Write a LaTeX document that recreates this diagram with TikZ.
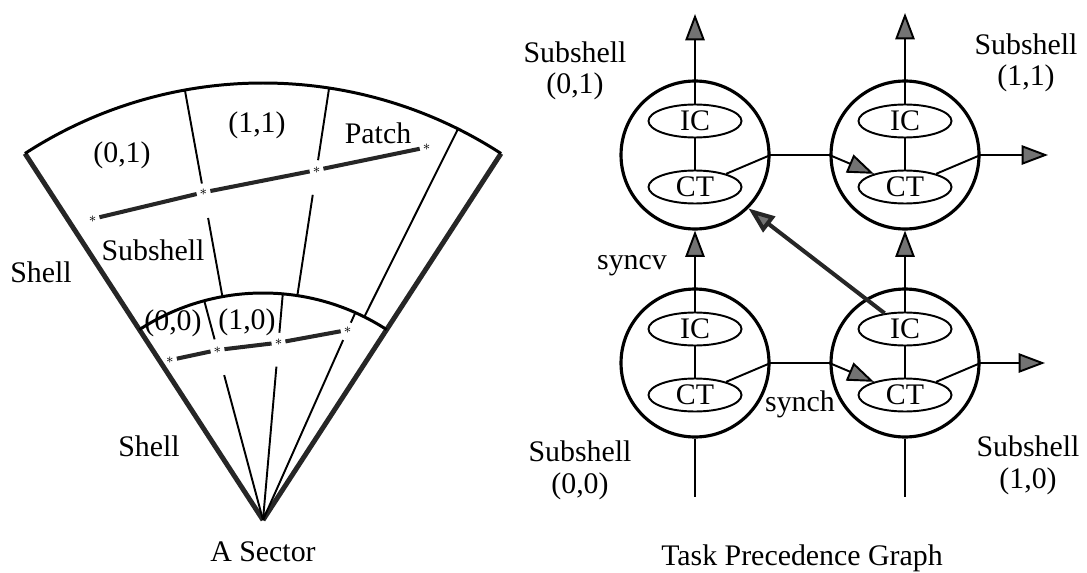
\documentclass[tikz,border=0pt]{standalone}
\usepackage{fontspec}
\setmainfont{Liberation Serif}
\usetikzlibrary{arrows.meta,shapes.geometric}

\begin{document}
\begin{tikzpicture}[x=0.02cm,y=0.02cm,
      >={Triangle[length=15pt,width=11pt,fill=black!55]},
      font=\fontsize{17}{18}\selectfont,
      rim/.style={line width=1.7pt},
      side/.style={line width=2.8pt,black!85},
      sect/.style={line width=1.1pt},
      patch/.style={line width=2.3pt,black!85,shorten <=4pt,shorten >=4pt},
      spot/.style={inner sep=0pt,font=\footnotesize},
      task/.style={circle,draw,line width=1.8pt,minimum size=2.96cm,inner sep=0pt},
      job/.style={ellipse,draw,line width=1.1pt,minimum width=1.86cm,minimum height=0.66cm,inner sep=0pt},
      link/.style={line width=1.1pt}]
      \useasboundingbox (0,0) rectangle (1087,572);

      % the sector, drawn around its apex
      \begin{scope}[shift={(263,52)}]
      \coordinate (apex) at (0,0);
      \draw[side] (apex) -- (123:437);
      \draw[side] (apex) -- (57:437);
      \draw[rim] (123:437) arc (123:57:437);
      \draw[rim] (123:227) arc (123:57:227);

      % subshell boundaries, broken where the patch lines cross
      \foreach \a/\o/\p/\q/\i in {100.3/437/342/307/227, 81.3/437/364/329/227,
                                  105/227/187/150/0, 85/227/188/154/0, 66/227/216/197/0}
        \draw[sect] (\a:\o) -- (\a:\p) (\a:\q) -- (\a:\i);
      \draw[sect] (63.5:437) -- (63.5:227);

      % patch lines
      \coordinate (p1) at (119.5:346);
      \coordinate (p2) at (100.3:333);
      \coordinate (p3) at (81.3:354);
      \coordinate (p4) at (66.3:407);
      \coordinate (q1) at (120.2:185);
      \coordinate (q2) at (105:176);
      \coordinate (q3) at (85:178);
      \coordinate (q4) at (66:208);
      \foreach \u/\v in {p1/p2,p2/p3,p3/p4,q1/q2,q2/q3,q3/q4}
        \draw[patch] (\u) -- (\v);
      \foreach \u in {p1,p2,p3,p4,q1,q2,q3,q4}
        \node[spot] at (\u) {$*$};
      \end{scope}

      \node (c01) at (122,417) {(0,1)};
      \node (c11) at (257,447) {(1,1)};
      \node (patch) at (378,439) {Patch};
      \node (sub) at (153,322) {Subshell};
      \node (shellA) at (41,300) {Shell};
      \node (c00) at (173,249) {(0,0)};
      \node (c10) at (247,250) {(1,0)};
      \node (shellB) at (149,126) {Shell};
      \node (sector) at (263,20) {A Sector};

      % task precedence graph
      \node[task] (s01) at (695,417) {};
      \node[task] (s11) at (905,417) {};
      \node[task] (s00) at (695,209) {};
      \node[task] (s10) at (905,209) {};
      \foreach \n/\x/\y in {01/695/417, 11/905/417, 00/695/209, 10/905/209} {
        \node[job] (ic\n) at (\x,\y+34) {IC};
        \node[job] (ct\n) at (\x,\y-32) {CT};
        \draw[link] (ic\n) -- (ct\n);
      }

      \coordinate (up01) at (695,558);
      \coordinate (up11) at (905,559);
      \coordinate (out11) at (1048,417);
      \coordinate (out10) at (1045,209);
      \coordinate (in00) at (695,75);
      \coordinate (in10) at (905,75);

      \draw[link,->] (ic01) -- (up01);
      \draw[link,->] (ic11) -- (up11);
      \draw[link,->] (ct01) -- (s01.east) -- (s11.west) -- (ct11);
      \draw[link,->] (ct00) -- (s00.east) -- (s10.west) -- (ct10);
      \draw[link,->] (ct11) -- (s11.east) -- (out11);
      \draw[link,->] (ct10) -- (s10.east) -- (out10);
      \draw[link,->] (ic00) -- (s01.south);
      \draw[link,->] (ic10) -- (s11.south);
      \draw[link] (s00.south) -- (in00);
      \draw[link] (s10.south) -- (in10);
      \draw[line width=2.3pt,black!85,->] (ic10) -- (s01.south east);

      \node[align=center] (t01) at (575,501) {Subshell\\(0,1)};
      \node[align=center] (t11) at (1026,509) {Subshell\\(1,1)};
      \node[align=center] (t00) at (580,102) {Subshell\\(0,0)};
      \node[align=center] (t10) at (1028,107) {Subshell\\(1,0)};
      \node (syncv) at (632,306) {syncv};
      \node (synch) at (800,168) {synch};
      \node (graph) at (802,14) {Task Precedence Graph};
\end{tikzpicture}
\end{document}
